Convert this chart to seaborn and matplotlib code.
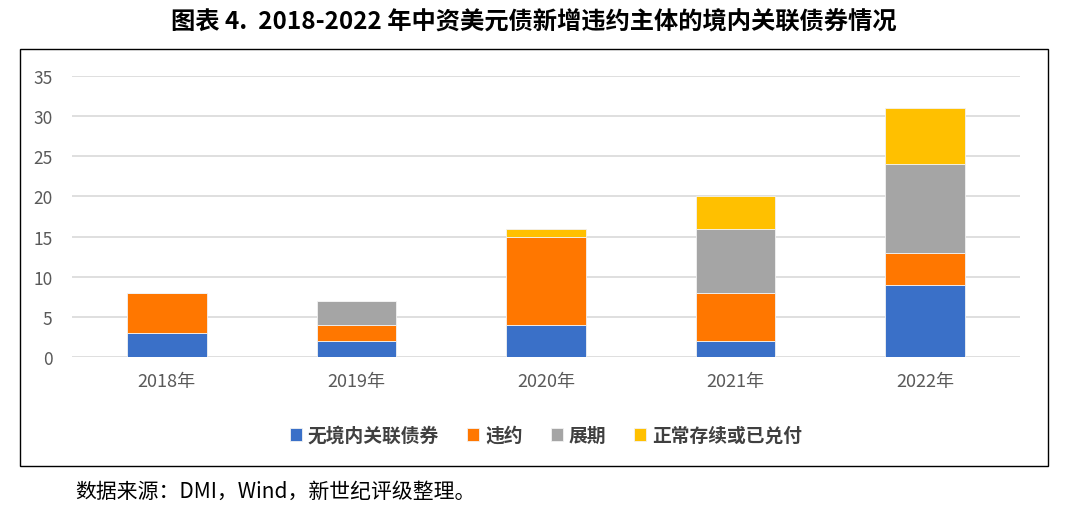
import matplotlib
matplotlib.use("Agg")
import matplotlib.pyplot as plt
import seaborn as sns
import pandas as pd
import numpy as np
from matplotlib.patches import Rectangle

# data
years = ["2018年", "2019年", "2020年", "2021年", "2022年"]
no_domestic = [3, 2, 4, 2, 9]
default = [5, 2, 11, 6, 4]
extension = [0, 3, 0, 8, 11]
normal_paid = [0, 0, 1, 4, 7]

series_names = ["无境内关联债券", "违约", "展期", "正常存续或已兑付"]
series_values = [no_domestic, default, extension, normal_paid]
colors = ["#3A70C8", "#FF7700", "#A5A5A5", "#FFC000"]

sns.set_theme(style="white")
plt.rcParams['font.family'] = ['Noto Sans CJK SC', 'DejaVu Sans']

fig = plt.figure(figsize=(10.68, 5.10), dpi=100)
ax = fig.add_axes([0.0674, 0.298, 0.8876, 0.551])

bottom = np.zeros(len(years))
for name, vals, col in zip(series_names, series_values, colors):
    df = pd.DataFrame({"year": years, "value": vals})
    sns.barplot(data=df, x="year", y="value", color=col, bottom=bottom,
                width=0.42, ax=ax, label=name, saturation=1, zorder=3,
                edgecolor="#F2F2F2", linewidth=0.6)
    bottom = bottom + np.array(vals)

ax.set_ylim(0, 35)
ax.set_yticks(range(0, 36, 5))
ax.set_xlim(-0.5, 4.5)
ax.yaxis.grid(True, color="#D9D9D9", linewidth=1.2, zorder=0)
ax.set_axisbelow(True)
for s in ["top", "right", "left", "bottom"]:
    ax.spines[s].set_visible(False)
ax.set_xlabel("")
ax.set_ylabel("")
ax.tick_params(axis="both", length=0, labelsize=12.5, labelcolor="#595959")
ax.tick_params(axis="x", labelsize=13, pad=11)
ax.tick_params(axis="y", pad=14)

leg = ax.legend(loc="upper center", bbox_to_anchor=(0.5, -0.185), ncol=4,
                frameon=False, fontsize=13.5, handlelength=0.65, handleheight=0.65,
                handletextpad=0.3, columnspacing=1.5)
for t in leg.get_texts():
    t.set_color("#404040")
    t.set_fontweight("bold")

# chart frame
fig.patches.append(Rectangle((20 / 1068, 1 - 467 / 510), 1028 / 1068, 417 / 510,
                             transform=fig.transFigure, fill=False,
                             edgecolor="#000000", linewidth=1.0))

fig.text(0.5, 1 - 23 / 510, "图表 4.  2018-2022 年中资美元债新增违约主体的境内关联债券情况",
         ha="center", va="center", fontsize=17.5, fontweight="bold", color="#000000")
fig.text(75 / 1068, 1 - 492 / 510, "数据来源：DMI，Wind，新世纪评级整理。",
         ha="left", va="center", fontsize=15, color="#000000")

fig.savefig("out.png", dpi=100)
